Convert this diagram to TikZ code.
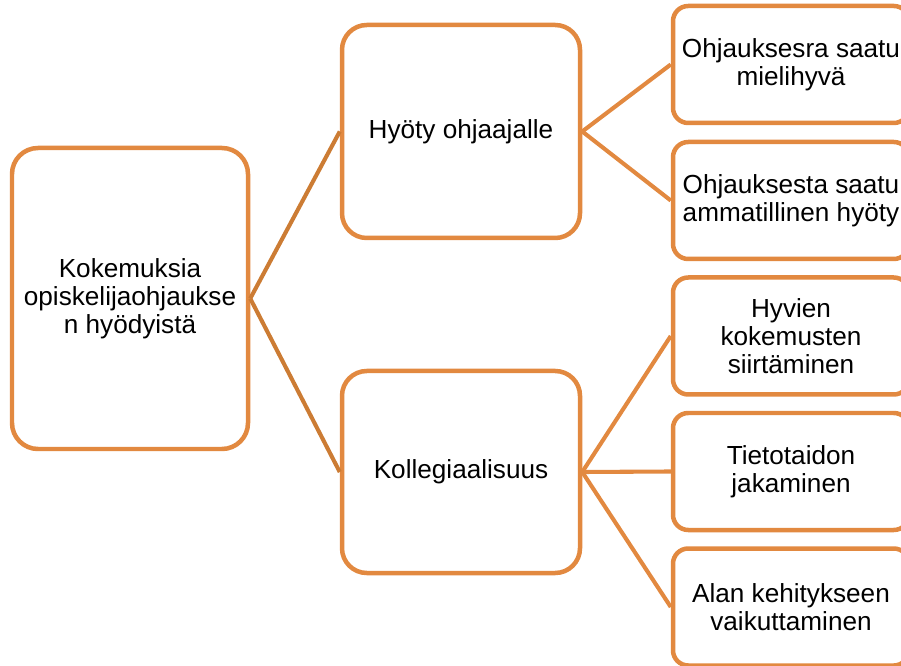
\documentclass[tikz,border=0pt]{standalone}
\usepackage{fontspec}
\setmainfont{Liberation Sans}
\usepackage{tikz}
\usetikzlibrary{positioning,calc}
\definecolor{boxorange}{RGB}{226,137,64}
\definecolor{linkorange}{RGB}{204,124,52}
\tikzset{
    rootbox/.style={draw=boxorange, line width=3.2pt, fill=white, rounded corners=0.65cm,
                    minimum width=5.9cm, minimum height=7.525cm, align=center, inner sep=2pt},
    midbox/.style={draw=boxorange, line width=3.2pt, fill=white, rounded corners=0.62cm,
                   minimum width=5.95cm, align=center, inner sep=2pt},
    leafbox/.style={draw=boxorange, line width=3.2pt, fill=white, rounded corners=0.38cm,
                    minimum width=5.9cm, minimum height=2.925cm, align=center, inner sep=2pt},
    rootlink/.style={draw=linkorange, line width=2.9pt},
    link/.style={draw=boxorange, line width=2.9pt},
    txt/.style={font=\fontsize{18.6}{20}\selectfont},
}

\begin{document}
\begin{tikzpicture}
    \clip (0,0) rectangle (22.525,16.625);
    \useasboundingbox (0,0) rectangle (22.525,16.625);

    % Root
    \node[rootbox, txt] (root) at (3.25,9.1625) {Kokemuksia\\opiskelijaohjaukse\\n hyödyistä};

    % Middle level
    \node[midbox, txt, minimum height=5.325cm] (hyoty) at (11.525,13.3375) {Hyöty ohjaajalle};
    \node[midbox, txt, minimum height=5.05cm] (koll) at (11.525,4.825) {Kollegiaalisuus};

    % Leaves of Hyöty ohjaajalle
    \node[leafbox, txt] (mieli) at (19.775,15.0125) {Ohjauksesra saatu\\mielihyvä};
    \node[leafbox, txt] (ammat) at (19.775,11.6125) {Ohjauksesta saatu\\ammatillinen hyöty};

    % Leaves of Kollegiaalisuus
    \node[leafbox, txt] (hyvien) at (19.775,8.225) {Hyvien\\kokemusten\\siirtäminen};
    \node[leafbox, txt] (tieto) at (19.775,4.8375) {Tietotaidon\\jakaminen};
    \node[leafbox, txt] (alan) at (19.775,1.45) {Alan kehitykseen\\vaikuttaminen};

    % Connectors
    \draw[rootlink] (root.east) -- (hyoty.west);
    \draw[rootlink] (root.east) -- (koll.west);
    \draw[link] (hyoty.east) -- (mieli.west);
    \draw[link] (hyoty.east) -- (ammat.west);
    \draw[link] (koll.east) -- (hyvien.west);
    \draw[link] (koll.east) -- (tieto.west);
    \draw[link] (koll.east) -- (alan.west);
\end{tikzpicture}
\end{document}
